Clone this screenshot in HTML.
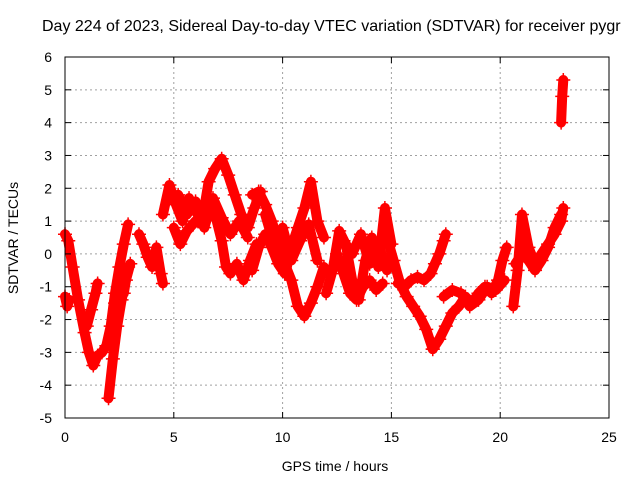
<!DOCTYPE html>
<html><head><meta charset="utf-8"><style>
body{margin:0;background:#fff;}
svg{display:block;font-family:"Liberation Sans",sans-serif;}
</style></head><body>
<svg id="chart" width="640" height="480" viewBox="0 0 640 480">
<rect width="640" height="480" fill="#fff"/>
<text x="42" y="31" font-size="16" fill="#000">Day 224 of 2023, Sidereal Day-to-day VTEC variation (SDTVAR) for receiver pygr</text>
<g id="grid"></g>
<g id="marks"></g>
<rect x="65" y="57" width="544" height="361" fill="none" stroke="#000" stroke-width="1"/>
<g id="ticks"></g>
<text x="335" y="471" font-size="14" text-anchor="middle">GPS time / hours</text>
<text x="18" y="238" font-size="14" text-anchor="middle" transform="rotate(-90 18 238)">SDTVAR / TECUs</text>
</svg>
<script>
const xTicks=[0,5,10,15,20,25];
const yTicks=[-5,-4,-3,-2,-1,0,1,2,3,4,5,6];
const s1t=[0,0.15,0.35,0.6,0.9,1.1,1.3,1.5,1.7,1.9,2.1,2.3,2.5,2.7,2.9];
const s1v=[0.6,0.4,-0.4,-1.4,-2.4,-3.0,-3.4,-3.1,-3.0,-2.8,-2.2,-1.2,-0.4,0.3,0.9];
const s2t=[0.0,0.1,0.2];
const s2v=[-1.3,-1.6,-1.4];
const s3t=[1.0,1.2,1.4,1.5];
const s3v=[-2.2,-1.7,-1.2,-0.9];
const s4t=[2.0,2.2,2.4,2.6,2.8,3.0];
const s4v=[-4.4,-3.2,-2.2,-1.4,-0.8,-0.3];
const s5t=[3.4,3.6,3.8,4.0,4.2,4.4,4.5];
const s5v=[0.6,0.3,-0.1,-0.4,0.2,-0.6,-0.9];
const s6t=[4.5,4.8,5.1,5.4,5.7,6.0,6.3,6.6,6.9,7.2,7.5,7.8,8.1,8.4,8.7,9.0];
const s6v=[1.2,2.1,1.5,1.0,1.7,1.3,1.0,2.2,2.6,2.9,2.4,1.8,1.2,0.8,1.4,1.9];
const s7t=[5.0,5.3,5.6,6.0,6.3,6.6,6.9,7.2,7.4,7.6,7.9,8.2,8.5,8.8];
const s7v=[0.8,0.3,0.7,1.0,0.9,1.5,1.2,0.4,-0.4,-0.6,-0.3,-0.8,-0.2,0.3];
const s8t=[8.6,8.9,9.2,9.5,9.8,10.1,10.4,10.7,11.0,11.3,11.6,11.9];
const s8v=[1.8,1.9,1.5,1.0,0.4,-0.3,-0.8,-1.6,-1.9,-1.5,-1.0,-0.4];
const s9t=[8.6,8.9,9.2,9.5,9.8,10.1,10.4,10.7,11.0,11.3,11.6,11.9];
const s9v=[-0.5,0.2,0.6,0.2,-0.3,-0.6,0.2,0.8,1.4,2.2,1.0,0.5];
const s10t=[12.0,12.3,12.6,12.9,13.2,13.5,13.8,14.1,14.4,14.7,15.0];
const s10v=[-1.2,-0.5,0.7,0.3,-0.8,-1.4,-0.2,0.5,-0.4,1.4,0.3];
const s11t=[12.5,12.8,13.1,13.4,13.7,14.0,14.3,14.6];
const s11v=[0.0,-0.6,-1.2,-1.4,-1.0,-0.8,-1.1,-0.9];
const s12t=[14.8,15.1,15.4,15.7,16.0,16.3,16.6,16.9];
const s12v=[0.5,-0.2,-0.9,-1.3,-1.6,-1.9,-2.3,-2.9];
const s13t=[16.9,17.2,17.5,17.8,18.1,18.4,18.7,19.0,19.3,19.6,19.9,20.1,20.3];
const s13v=[-2.9,-2.6,-2.2,-1.8,-1.6,-1.3,-1.5,-1.2,-1.0,-1.2,-0.8,-0.2,0.2];
const s14t=[15.3,15.6,15.9,16.2,16.5,16.8,17.0,17.2,17.4,17.5];
const s14v=[-0.9,-1.0,-0.8,-0.7,-0.8,-0.6,-0.3,0.0,0.4,0.6];
const s15t=[17.4,17.8,18.2,18.6,19.0,19.4,19.8,20.2];
const s15v=[-1.3,-1.1,-1.2,-1.6,-1.4,-1.0,-1.1,-0.8];
const s16t=[20.6,20.8,21.0,21.3,21.6,21.9,22.2,22.5,22.8,22.9];
const s16v=[-1.6,-0.5,1.2,0.2,-0.3,0.0,0.3,0.6,1.0,1.4];
const s17t=[20.7,21.0,21.3,21.6,21.9,22.2,22.5,22.8];
const s17v=[-0.3,0.0,-0.2,-0.5,-0.2,0.2,0.8,1.2];
const s18t=[22.8,22.85,22.9];
const s18v=[4.0,4.8,5.3];
const s19t=[5.2,5.6,6.0,6.4,6.8,7.2,7.6,8.0,8.4];
const s19v=[1.8,1.2,1.6,0.8,1.7,1.1,0.6,1.0,0.5];
const s20t=[9.2,9.6,10.0,10.4,10.8,11.2,11.6];
const s20v=[1.2,0.3,0.8,-0.2,0.4,0.9,-0.2];
const s21t=[12.8,13.2,13.6,14.0,14.4,14.8];
const s21v=[0.4,0.0,0.6,-0.3,0.3,-0.5];
const s22t=[2.3,2.5,2.7,2.9];
const s22v=[-1.5,-0.8,-1.2,-0.4];
const seriesT=[s1t,s2t,s3t,s4t,s5t,s6t,s7t,s8t,s9t,s10t,s11t,s12t,s13t,s14t,s15t,s16t,s17t,s18t,s19t,s20t,s21t,s22t];
const seriesV=[s1v,s2v,s3v,s4v,s5v,s6v,s7v,s8v,s9v,s10v,s11v,s12v,s13v,s14v,s15v,s16v,s17v,s18v,s19v,s20v,s21v,s22v];

const X0=65,X1=609,Y0=418,Y1=57;
const xs=t=>X0+(t-0)/(25-0)*(X1-X0);
const ys=v=>Y0-(v+5)/(6+5)*(Y0-Y1);
const NS='http://www.w3.org/2000/svg';
const grid=document.getElementById('grid'),ticks=document.getElementById('ticks'),marks=document.getElementById('marks');
function mk(tag,attrs,parent){const e=document.createElementNS(NS,tag);for(const k in attrs)e.setAttribute(k,attrs[k]);parent.appendChild(e);return e;}
xTicks.forEach(t=>{
  const x=xs(t);
  if(t>0&&t<25){const g=mk('line',{x1:x,x2:x,y1:Y1,y2:Y0,stroke:'#a0a0a0','stroke-dasharray':'2,3','stroke-width':1},grid);
  
  }
  mk('line',{x1:x,x2:x,y1:Y0,y2:Y0-6,stroke:'#000'},ticks);
  mk('line',{x1:x,x2:x,y1:Y1,y2:Y1+6,stroke:'#000'},ticks);
  const l=mk('text',{x:x,y:442,'font-size':14,'text-anchor':'middle'},ticks);
  l.textContent=t;
  
  
});
yTicks.forEach(v=>{
  const y=ys(v);
  if(v>-5&&v<6){const g=mk('line',{x1:X0,x2:X1,y1:y,y2:y,stroke:'#a0a0a0','stroke-dasharray':'2,3','stroke-width':1},grid);
  
  }
  mk('line',{x1:X0,x2:X0+6,y1:y,y2:y,stroke:'#000'},ticks);
  mk('line',{x1:X1,x2:X1-6,y1:y,y2:y,stroke:'#000'},ticks);
  const l=mk('text',{x:52,y:y+5,'font-size':14,'text-anchor':'end'},ticks);
  l.textContent=v;
  
  
});
seriesT.forEach((T,i)=>{
  const V=seriesV[i];
  const pts=T.map((t,j)=>xs(t).toFixed(1)+','+ys(V[j]).toFixed(1)).join(' ');
  const pl=mk('polyline',{points:pts,fill:'none',stroke:'#ff0000','stroke-width':10,'stroke-linejoin':'round','stroke-linecap':'round'},marks);
  
  
  T.forEach((t,j)=>{
    const x=xs(t),y=ys(V[j]);
    const p=mk('path',{d:`M${x-7},${y}H${x+7}M${x},${y-7}V${y+7}`,stroke:'#ff0000','stroke-width':1.5},marks);
    
    
  });
});
</script>
</body></html>
